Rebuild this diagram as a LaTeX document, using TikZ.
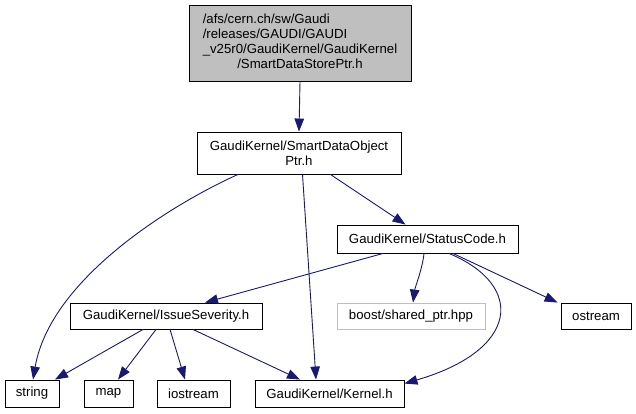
\documentclass[tikz,border=0pt]{standalone}
\usepackage{fontspec}
\setmainfont{Liberation Sans}
\usetikzlibrary{arrows.meta}
\definecolor{edgeblue}{HTML}{191970}
\definecolor{topgray}{HTML}{BFBFBF}
\tikzset{
  box/.style={draw=black, line width=0.9bp, fill=white, inner sep=0pt, align=center,
    font=\fontsize{13.2bp}{15bp}\selectfont},
  dep/.style={draw=edgeblue, line width=0.9bp, -{Triangle[length=13bp,width=9.5bp]}},
}
\begin{document}
\begin{tikzpicture}[x=1bp,y=-1bp]
\useasboundingbox (0,0) rectangle (636,413);
% nodes
\node[box, fill=topgray, minimum width=222bp, minimum height=76bp] (top) at (300,43)
  {\begin{tabular}{@{}l@{}}/afs/cern.ch/sw/Gaudi\\/releases/GAUDI/GAUDI\\\_v25r0/GaudiKernel/GaudiKernel\\\multicolumn{1}{@{}c@{}}{/SmartDataStorePtr.h}\end{tabular}};
\node[box, minimum width=204bp, minimum height=42bp] (sdop) at (299,153)
  {GaudiKernel/SmartDataObject\\Ptr.h};
\node[box, minimum width=181bp, minimum height=28bp] (sc) at (427.5,239) {GaudiKernel/StatusCode.h};
\node[box, draw=topgray, minimum width=148bp, minimum height=26bp] (boost) at (411,316) {boost/shared\_ptr.hpp};
\node[box, minimum width=70bp, minimum height=26bp] (ostream) at (596,316) {ostream};
\node[box, minimum width=192bp, minimum height=26bp] (is) at (166,316) {GaudiKernel/IssueSeverity.h};
\node[box, minimum width=149bp, minimum height=27bp] (kernel) at (329.5,393.5) {GaudiKernel/Kernel.h};
\node[box, minimum width=54bp, minimum height=27bp] (string) at (32,393.5) {string};
\node[box, minimum width=49bp, minimum height=27bp] (map) at (108.5,393.5) {map};
\node[box, minimum width=73bp, minimum height=27bp] (iostream) at (193.5,393.5) {iostream};
% edges
\draw[dep] (top.south) -- (sdop.north);
\draw[dep] ([xshift=-61bp]sdop.south) .. controls (170,205) and (50,280) .. ([xshift=1bp]string.north);
\draw[dep] ([xshift=3.5bp]sdop.south) -- ([xshift=-13.5bp]kernel.north);
\draw[dep] ([xshift=31.5bp]sdop.south) -- ([xshift=-22bp]sc.north);
\draw[dep] ([xshift=-44.5bp]sc.south) -- ([xshift=39bp]is.north);
\draw[dep] ([xshift=-3.5bp]sc.south) .. controls ([xshift=-5bp,yshift=-15bp]sc.south) and ([xshift=4bp,yshift=15bp]boost.north) .. ([xshift=2bp]boost.north);
\draw[dep] ([xshift=21.5bp]sc.south) .. controls (525,285) and (520,350) .. ([yshift=-4bp]kernel.north east);
\draw[dep] ([xshift=25.5bp]sc.south) -- ([xshift=-3bp]ostream.north west);
\draw[dep] ([xshift=-23bp]is.south) -- ([xshift=23bp]string.north);
\draw[dep] ([xshift=-10bp]is.south) -- ([xshift=9.5bp]map.north);
\draw[dep] ([xshift=4bp]is.south) -- ([xshift=-8.5bp]iostream.north);
\draw[dep] ([xshift=27bp]is.south) -- ([xshift=-29.5bp]kernel.north);
\end{tikzpicture}
\end{document}
